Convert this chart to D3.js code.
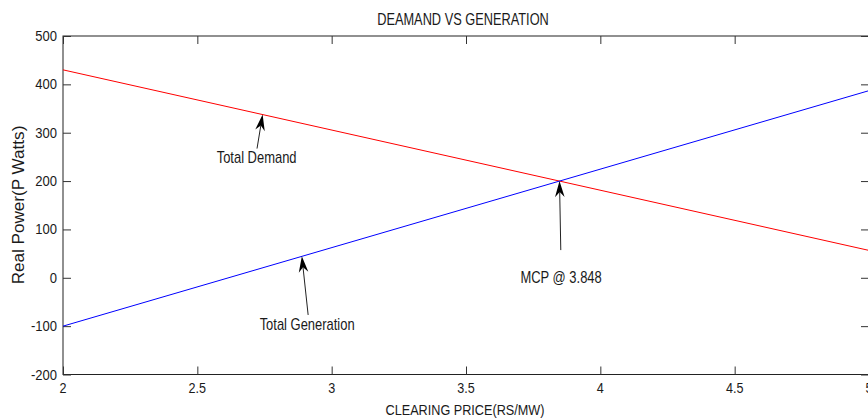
<!DOCTYPE html>
<html>
<head>
<meta charset="utf-8">
<script src="https://cdn.jsdelivr.net/npm/d3@7"></script>
<style>
  html, body { margin: 0; padding: 0; background: #fff; }
  svg text { font-family: "Liberation Sans", Arial, Helvetica, sans-serif; fill: #1a1a1a; }
</style>
</head>
<body>
<svg id="chart" width="868" height="420"></svg>
<script>
// Clearing price (RS/MW) at the ends of the sweep
const prices = [2, 5];
// Total demand and total generation (P Watts) at those prices
const demand = [430, 56.6];
const generation = [-100, 387];
// Axis ticks
const xTicks = [2, 2.5, 3, 3.5, 4, 4.5, 5];
const yTicks = [-200, -100, 0, 100, 200, 300, 400, 500];
// Annotations: label, price on the line, series, arrow tail and label offsets
const notes = [
  { text: "Total Demand", price: 2.743, series: "demand", tx: -5.6, ty: 34, lx: -6, ly: 48.4 },
  { text: "Total Generation", price: 2.889, series: "generation", tx: 6.3, ty: 58.6, lx: 5.3, ly: 73.6 },
  { text: "MCP @ 3.848", price: 3.848, series: "demand", tx: 1.3, ty: 69, lx: 1.6, ly: 101.6 }
];

const svg = d3.select("#chart");
const m = { left: 63, right: 869, top: 36, bottom: 374.5 };

const x = d3.scaleLinear().domain([2, 5]).range([m.left, m.right]);
const y = d3.scaleLinear().domain([-200, 500]).range([m.bottom, m.top]);

const lerp = (arr, p) => arr[0] + (arr[1] - arr[0]) * (p - prices[0]) / (prices[1] - prices[0]);

// Condensed text helper: horizontal squeeze about the anchor point
function label(px, py, str, size, sx, anchor, rot) {
  return svg.append("text")
    .attr("transform", `translate(${px},${py})${rot ? ` rotate(${rot})` : ""} scale(${sx},1)`)
    .attr("text-anchor", anchor || "middle")
    .style("font-size", size + "px")
    .text(str);
}

// Plot box
svg.append("rect")
  .attr("x", m.left).attr("y", m.top)
  .attr("width", m.right - m.left).attr("height", m.bottom - m.top)
  .attr("fill", "#fff").attr("stroke", "#222").attr("stroke-width", 1);

const tickLen = 8;
const tickStyle = g => {
  g.select(".domain").remove();
  g.selectAll(".tick line").attr("stroke", "#333");
  g.selectAll(".tick text").remove();
};

// Inward ticks on all four sides
svg.append("g").attr("transform", `translate(0,${m.bottom})`)
  .call(d3.axisBottom(x).tickValues(xTicks).tickSize(-tickLen)).call(tickStyle);
svg.append("g").attr("transform", `translate(0,${m.top})`)
  .call(d3.axisTop(x).tickValues(xTicks).tickSize(-tickLen)).call(tickStyle);
svg.append("g").attr("transform", `translate(${m.left},0)`)
  .call(d3.axisLeft(y).tickValues(yTicks).tickSize(-tickLen)).call(tickStyle);
svg.append("g").attr("transform", `translate(${m.right},0)`)
  .call(d3.axisRight(y).tickValues(yTicks).tickSize(-tickLen)).call(tickStyle);

// Tick labels (plain hyphen for negatives)
xTicks.forEach(v => label(x(v), 393, String(v), 14, 0.9, "middle"));
yTicks.forEach(v => label(m.left - 6, y(v) + 5, String(v), 14, 0.93, "end"));

// Series lines
const line = d3.line().x(d => x(d[0])).y(d => y(d[1]));
svg.append("path").datum(prices.map((p, i) => [p, demand[i]]))
  .attr("d", line).attr("fill", "none").attr("stroke", "#ff0000").attr("stroke-width", 1);
svg.append("path").datum(prices.map((p, i) => [p, generation[i]]))
  .attr("d", line).attr("fill", "none").attr("stroke", "#0000ff").attr("stroke-width", 1);

// Annotation arrows
const series = { demand, generation };
notes.forEach(n => {
  const hx = x(n.price), hy = y(lerp(series[n.series], n.price));
  const tx = hx + n.tx, ty = hy + n.ty;
  const ang = Math.atan2(hy - ty, hx - tx);
  const c = Math.cos(ang), s = Math.sin(ang);
  const L = 16, W = 4.8, notch = 11;
  const bx = hx - L * c, by = hy - L * s;
  const px = -s * W, py = c * W;
  svg.append("line").attr("x1", tx).attr("y1", ty).attr("x2", hx - notch * c).attr("y2", hy - notch * s)
    .attr("stroke", "#222").attr("stroke-width", 1);
  svg.append("path")
    .attr("d", `M${hx},${hy}L${bx + px},${by + py}L${hx - notch * c},${hy - notch * s}L${bx - px},${by - py}Z`)
    .attr("fill", "#000");
  label(hx + n.lx, hy + n.ly, n.text, 16, 0.81, "middle");
});

// Titles
label((m.left + m.right) / 2 - 3, 25, "DEAMAND VS GENERATION", 16, 0.8, "middle");
label((m.left + m.right) / 2 - 1, 415, "CLEARING PRICE(RS/MW)", 15, 0.845, "middle");
label(24, 205, "Real Power(P Watts)", 16, 1.07, "middle", -90);
</script>
</body>
</html>
